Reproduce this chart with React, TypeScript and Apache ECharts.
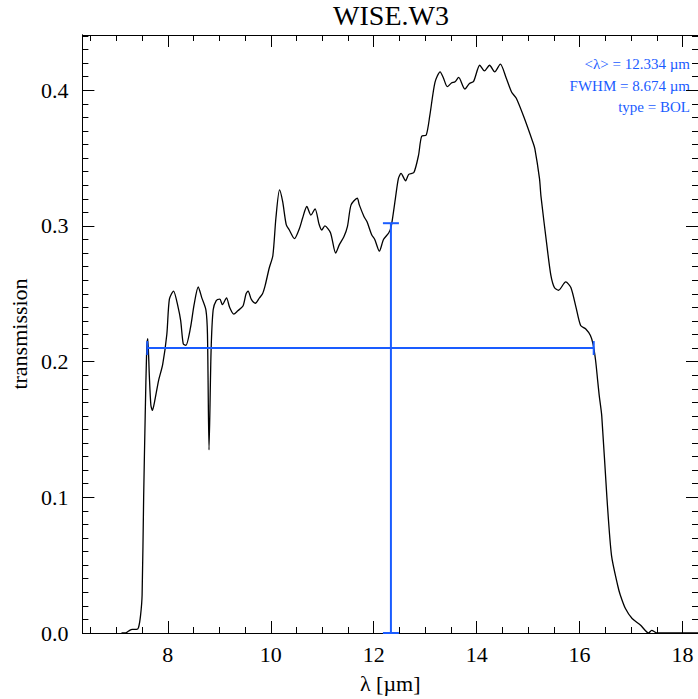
import { useEffect, useRef } from 'react';
import * as echarts from 'echarts';

// Wavelength (µm) and transmission of the WISE W3 band
const WAVELENGTH = [
  7.10, 7.18, 7.24, 7.31, 7.39, 7.43, 7.47, 7.50, 7.53, 7.56, 7.59, 7.61, 7.64, 7.67, 7.70, 7.74,
  7.82, 7.90, 7.98, 8.03, 8.11, 8.20, 8.25, 8.30, 8.35, 8.44, 8.51, 8.59, 8.66, 8.74, 8.77, 8.80,
  8.84, 8.88, 8.94, 9.01, 9.06, 9.14, 9.20, 9.28, 9.36, 9.46, 9.52, 9.56, 9.62, 9.70, 9.78, 9.84,
  9.89, 9.97, 10.04, 10.10, 10.17, 10.23, 10.30, 10.36, 10.46, 10.56, 10.62, 10.70, 10.78, 10.86,
  10.94, 10.99, 11.05, 11.16, 11.26, 11.33, 11.42, 11.49, 11.56, 11.68, 11.72, 11.81, 11.87, 11.96,
  12.02, 12.11, 12.19, 12.29, 12.34, 12.42, 12.48, 12.53, 12.62, 12.68, 12.78, 12.87, 12.93, 13.02,
  13.09, 13.19, 13.29, 13.35, 13.43, 13.51, 13.58, 13.65, 13.77, 13.86, 13.94, 14.06, 14.15, 14.25,
  14.35, 14.46, 14.57, 14.68, 14.77, 14.93, 15.09, 15.13, 15.22, 15.25, 15.37, 15.44, 15.51, 15.59,
  15.73, 15.83, 15.93, 16.02, 16.12, 16.21, 16.26, 16.31, 16.35, 16.38, 16.43, 16.53, 16.62, 16.74,
  16.79, 16.89, 17.02, 17.18, 17.34, 17.40, 17.50, 17.60, 18.30,
];
const TRANSMISSION = [
  0.0, 0.0, 0.0015, 0.0027, 0.0027, 0.004, 0.013, 0.028, 0.10, 0.16, 0.21, 0.217, 0.19, 0.168, 0.164, 0.170,
  0.186, 0.198, 0.220, 0.246, 0.252, 0.240, 0.230, 0.213, 0.212, 0.225, 0.242, 0.255, 0.247, 0.238, 0.220, 0.135,
  0.208, 0.238, 0.245, 0.246, 0.242, 0.247, 0.240, 0.235, 0.2375, 0.241, 0.250, 0.252, 0.246, 0.243, 0.247, 0.250,
  0.256, 0.269, 0.278, 0.306, 0.3265, 0.318, 0.301, 0.297, 0.2907, 0.2985, 0.306, 0.3143, 0.308, 0.3126,
  0.301, 0.297, 0.300, 0.295, 0.280, 0.286, 0.292, 0.2997, 0.3155, 0.3204, 0.3155, 0.307, 0.303, 0.2935,
  0.290, 0.2814, 0.290, 0.2948, 0.2997, 0.320, 0.335, 0.3387, 0.3333, 0.338, 0.3394, 0.352, 0.366, 0.367,
  0.3814, 0.4058, 0.4135, 0.4094, 0.4026, 0.4053, 0.4062, 0.4094, 0.4009, 0.405, 0.4065, 0.4184, 0.4142, 0.4184,
  0.4135, 0.4192, 0.4094, 0.3985, 0.3941, 0.379, 0.3619, 0.357, 0.335, 0.3216, 0.2838, 0.264, 0.2546, 0.2526,
  0.2587, 0.2546, 0.240, 0.2266, 0.224, 0.2192, 0.213, 0.201, 0.1863, 0.1753, 0.16, 0.10, 0.057, 0.035,
  0.028, 0.018, 0.0107, 0.0059, 0.0, 0.002, 0.0, 0.0, 0.0,
];

// Filter summary values
const LAMBDA_MEAN = 12.334;
const FWHM = 8.674;
const FWHM_LO = 7.6;
const FWHM_HI = 16.274;
const HALF_MAX = 0.21;
const MEAN_BAR_TOP = 0.302;
const FILTER_TYPE = 'BOL';

// Axis ranges and ticks
const X_MIN = 6.34;
const X_MAX = 18.3;
const Y_MIN = 0;
const Y_MAX = 0.4407;
const X_TICKS = [8, 10, 12, 14, 16, 18];
const X_MINOR_TICKS = [6.5, 7, 7.5, 8, 8.5, 9, 9.5, 10, 10.5, 11, 11.5, 12, 12.5, 13, 13.5, 14, 14.5, 15, 15.5, 16, 16.5, 17, 17.5, 18];
const Y_TICKS = [0, 0.1, 0.2, 0.3, 0.4];
const Y_MINOR_TICKS = Array.from({ length: 45 }, (_, i) => +(i * 0.01).toFixed(2));

const BLUE = '#1a5cff';
const FONT = '"Liberation Serif", "Times New Roman", serif';

export default function App() {
  const ref = useRef<HTMLDivElement>(null);

  useEffect(() => {
    if (!ref.current) return;
    const chart = echarts.init(ref.current, null, { renderer: 'svg' });

    const baseX = {
      type: 'value',
      min: X_MIN,
      max: X_MAX,
      splitLine: { show: false },
      axisLine: { show: true, onZero: false, lineStyle: { color: '#000', width: 1 } },
    };
    const baseY = {
      type: 'value',
      min: Y_MIN,
      max: Y_MAX,
      splitLine: { show: false },
      axisLine: { show: true, onZero: false, lineStyle: { color: '#000', width: 1 } },
    };
    const tick = (vals: number[], len: number) => ({
      show: true,
      inside: true,
      length: len,
      customValues: vals,
      lineStyle: { color: '#000', width: 1 },
    });

    const option = {
      animation: false,
      backgroundColor: '#fff',
      grid: { left: 78, right: 0, top: 35, bottom: 61, containLabel: false },
      xAxis: [
        {
          ...baseX,
          position: 'bottom',
          axisTick: tick(X_TICKS, 12),
          axisLabel: {
            show: true,
            customValues: X_TICKS,
            margin: 10,
            color: '#000',
            fontFamily: FONT,
            fontSize: 22,
            formatter: (v: number) => String(v),
          },
          name: 'λ [µm]',
          nameLocation: 'middle',
          nameGap: 39,
          nameTextStyle: { color: '#000', fontFamily: FONT, fontSize: 22 },
        },
        { ...baseX, position: 'bottom', axisTick: tick(X_MINOR_TICKS, 6), axisLabel: { show: false } },
        { ...baseX, position: 'top', axisTick: tick(X_TICKS, 12), axisLabel: { show: false } },
        { ...baseX, position: 'top', axisTick: tick(X_MINOR_TICKS, 6), axisLabel: { show: false } },
      ],
      yAxis: [
        {
          ...baseY,
          position: 'left',
          axisTick: tick(Y_TICKS, 12),
          axisLabel: {
            show: true,
            customValues: Y_TICKS,
            margin: 14,
            color: '#000',
            fontFamily: FONT,
            fontSize: 22,
            formatter: (v: number) => v.toFixed(1),
          },
          name: 'transmission',
          nameLocation: 'middle',
          nameGap: 51,
          nameTextStyle: { color: '#000', fontFamily: FONT, fontSize: 22 },
        },
        { ...baseY, position: 'left', axisTick: tick(Y_MINOR_TICKS, 6), axisLabel: { show: false } },
        { ...baseY, position: 'right', axisTick: tick(Y_TICKS, 12), axisLabel: { show: false } },
        { ...baseY, position: 'right', axisTick: tick(Y_MINOR_TICKS, 6), axisLabel: { show: false } },
      ],
      series: [
        {
          type: 'line',
          xAxisIndex: 0,
          yAxisIndex: 0,
          data: WAVELENGTH.map((w, i) => [w, TRANSMISSION[i]]),
          showSymbol: false,
          smooth: 0.25,
          clip: true,
          lineStyle: { color: '#000', width: 1.3 },
          z: 3,
        },
        {
          type: 'custom',
          xAxisIndex: 0,
          yAxisIndex: 0,
          data: [[LAMBDA_MEAN, HALF_MAX, FWHM_LO, FWHM_HI, MEAN_BAR_TOP]],
          renderItem: (_params: any, api: any) => {
            const c = api.value(0);
            const y = api.value(1);
            const lo = api.value(2);
            const hi = api.value(3);
            const top = api.value(4);
            const pL = api.coord([lo, y]);
            const pR = api.coord([hi, y]);
            const pB = api.coord([c, 0]);
            const pT = api.coord([c, top]);
            const style = { stroke: BLUE, lineWidth: 2 };
            const cap = 7;
            const ln = (x1: number, y1: number, x2: number, y2: number) => ({
              type: 'line',
              shape: { x1, y1, x2, y2 },
              style,
            });
            return {
              type: 'group',
              children: [
                ln(pL[0], pL[1], pR[0], pR[1]),
                ln(pL[0], pL[1] - cap, pL[0], pL[1] + cap),
                ln(pR[0], pR[1] - cap, pR[0], pR[1] + cap),
                ln(pB[0], pB[1], pT[0], pT[1]),
                ln(pT[0] - cap - 1, pT[1], pT[0] + cap + 1, pT[1]),
                ln(pB[0] - cap - 1, pB[1], pB[0] + cap + 1, pB[1]),
              ],
            };
          },
          z: 4,
        },
      ],
      graphic: [
        {
          type: 'text',
          x: 391,
          y: 15,
          style: {
            text: 'WISE.W3',
            fill: '#000',
            font: `28px ${FONT}`,
            textAlign: 'center',
            textVerticalAlign: 'middle',
          },
        },
        {
          type: 'text',
          x: 690,
          y: 64,
          style: {
            text: `<λ> = ${LAMBDA_MEAN.toFixed(3)} µm`,
            fill: BLUE,
            font: `15px ${FONT}`,
            textAlign: 'right',
            textVerticalAlign: 'middle',
          },
        },
        {
          type: 'text',
          x: 690,
          y: 86,
          style: {
            text: `FWHM = ${FWHM.toFixed(3)} µm`,
            fill: BLUE,
            font: `15px ${FONT}`,
            textAlign: 'right',
            textVerticalAlign: 'middle',
          },
        },
        {
          type: 'text',
          x: 690,
          y: 107,
          style: {
            text: `type = ${FILTER_TYPE}`,
            fill: BLUE,
            font: `15px ${FONT}`,
            textAlign: 'right',
            textVerticalAlign: 'middle',
          },
        },
      ],
    };

    chart.setOption(option as any);
    return () => chart.dispose();
  }, []);

  return (
    <div
      ref={ref}
      style={{ position: 'fixed', left: 0, top: 0, width: 698, height: 699, background: '#fff' }}
    />
  );
}
